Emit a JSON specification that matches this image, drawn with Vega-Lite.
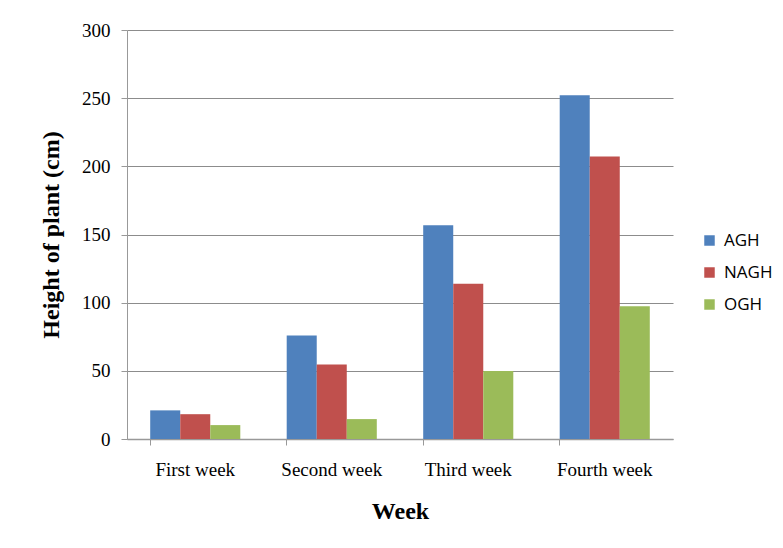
{
  "$schema": "https://vega.github.io/schema/vega-lite/v6.json",
  "width": 546,
  "height": 409,
  "autosize": {"type": "none"},
  "padding": {"left": 127, "top": 30, "right": 110, "bottom": 109},
  "background": "white",
  "data": {
    "values": [
      {"week": "First week", "group": "AGH", "height": 21.0},
      {"week": "First week", "group": "NAGH", "height": 18.2},
      {"week": "First week", "group": "OGH", "height": 10.2},
      {"week": "Second week", "group": "AGH", "height": 76.0},
      {"week": "Second week", "group": "NAGH", "height": 54.7},
      {"week": "Second week", "group": "OGH", "height": 14.6},
      {"week": "Third week", "group": "AGH", "height": 156.8},
      {"week": "Third week", "group": "NAGH", "height": 113.8},
      {"week": "Third week", "group": "OGH", "height": 49.9},
      {"week": "Fourth week", "group": "AGH", "height": 252.2},
      {"week": "Fourth week", "group": "NAGH", "height": 207.2},
      {"week": "Fourth week", "group": "OGH", "height": 97.4}
    ]
  },
  "mark": {"type": "bar"},
  "encoding": {
    "x": {
      "field": "week",
      "type": "nominal",
      "sort": ["First week", "Second week", "Third week", "Fourth week"],
      "scale": {"paddingInner": 0.34, "paddingOuter": 0.17},
      "axis": {
        "title": "Week",
        "titleFont": "Liberation Serif",
        "titleFontSize": 24,
        "titleFontWeight": "bold",
        "titleColor": "black",
        "titlePadding": 20,
        "labelFont": "Liberation Serif",
        "labelFontSize": 19,
        "labelColor": "black",
        "labelAngle": 0,
        "labelPadding": 15,
        "bandPosition": 0,
        "tickSize": 6,
        "tickColor": "#999999",
        "domainColor": "#999999",
        "domainWidth": 1.5,
        "grid": false
      }
    },
    "y": {
      "field": "height",
      "type": "quantitative",
      "scale": {"domain": [0, 300], "nice": false},
      "axis": {
        "title": "Height of plant (cm)",
        "titleFont": "Liberation Serif",
        "titleFontSize": 24,
        "titleFontWeight": "bold",
        "titleColor": "black",
        "titlePadding": 18,
        "values": [0, 50, 100, 150, 200, 250, 300],
        "labelFont": "Liberation Serif",
        "labelFontSize": 19,
        "labelColor": "black",
        "labelPadding": 11,
        "tickSize": 6,
        "tickColor": "#999999",
        "domainColor": "#999999",
        "grid": true,
        "gridColor": "#8c8c8c",
        "gridWidth": 1
      }
    },
    "xOffset": {"field": "group", "type": "nominal", "sort": ["AGH", "NAGH", "OGH"], "scale": {"paddingInner": 0, "paddingOuter": 0}},
    "color": {
      "field": "group",
      "type": "nominal",
      "sort": ["AGH", "NAGH", "OGH"],
      "scale": {"domain": ["AGH", "NAGH", "OGH"], "range": ["#4F81BD", "#C0504D", "#9BBB59"]},
      "legend": {
        "title": null,
        "orient": "none",
        "legendX": 574,
        "legendY": 202,
        "symbolType": "square",
        "symbolSize": 110,
        "symbolStrokeWidth": 0,
        "labelFont": "Open Sans",
        "labelFontSize": 17,
        "labelColor": "black",
        "rowPadding": 14,
        "labelOffset": 6
      }
    }
  },
  "config": {"view": {"stroke": null}}
}
